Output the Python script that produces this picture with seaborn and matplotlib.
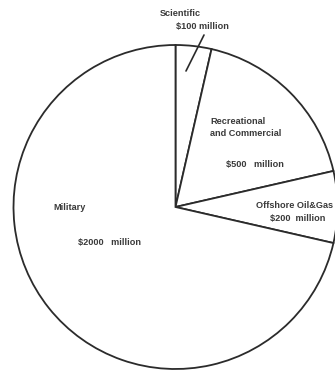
import matplotlib
matplotlib.use("Agg")
import matplotlib.pyplot as plt
import seaborn as sns

sns.set_style("white")
plt.rcParams["font.family"] = ["Liberation Sans", "DejaVu Sans"]

# Market segments (US$ million)
segments = ["Scientific", "Recreational and Commercial", "Offshore Oil&Gas", "Military"]
values = [100, 500, 200, 2000]

W, H = 335, 371
fig = plt.figure(figsize=(W / 100, H / 100), dpi=100)
ax = fig.add_axes([0, 0, 1, 1])

# work in pixel-like units so that the circle lands where wanted
cx, cy, radius = 175.5, H - 207, 162
edge = "#2b2b2b"
ax.pie(values, startangle=90, counterclock=False, center=(cx, cy),
       radius=radius, colors=["white"] * len(values),
       wedgeprops=dict(edgecolor=edge, linewidth=1.3))
ax.set_xlim(0, W)
ax.set_ylim(0, H)
ax.set_aspect("equal")
ax.axis("off")

txt = dict(fontsize=6.6, fontweight="bold", color="#3a3a3a", ha="left", va="center")

def y(py):
    return H - py

ax.text(160, y(14), "Scientific", **txt)
ax.text(176, y(26), f"${values[0]} million", **txt)
ax.annotate("", xy=(186, y(71)), xytext=(204, y(35)),
            arrowprops=dict(arrowstyle="-", color=edge, linewidth=1.2,
                            shrinkA=0, shrinkB=0))

ax.text(210, y(122), "Recreational", **txt)
ax.text(210, y(133), "and Commercial", **txt)
ax.text(226, y(165), f"${values[1]}   million", **txt)

ax.text(256, y(205), "Offshore Oil&Gas", **txt)
ax.text(270, y(219), f"${values[2]}  million", **txt)

ax.text(53, y(207), "Military", **txt)
ax.text(78, y(243), f"${values[3]}   million", **txt)

fig.savefig("out.png", dpi=100, facecolor="white")
